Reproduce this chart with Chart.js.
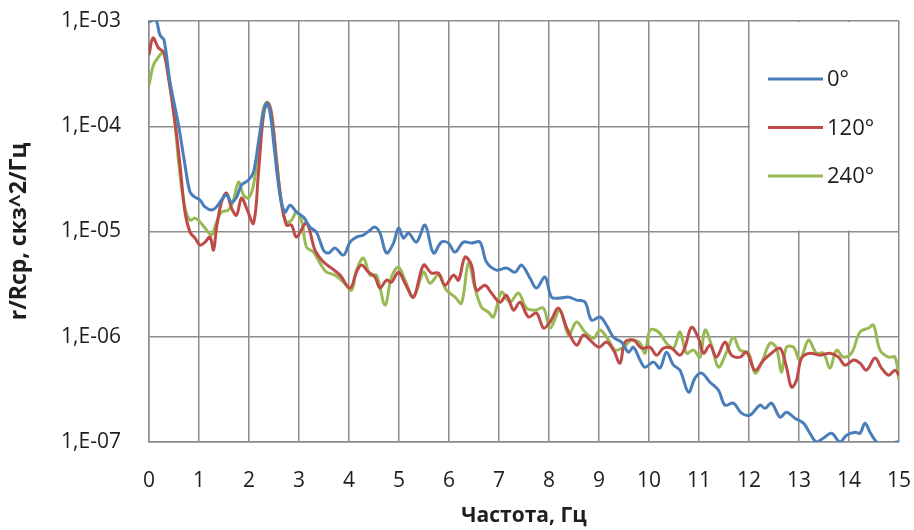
<!DOCTYPE html>
<html>
<head>
<meta charset="utf-8">
<script src="https://cdn.jsdelivr.net/npm/chart.js@4.4.1/dist/chart.umd.min.js"></script>
<style>
  html, body { margin: 0; padding: 0; background: #fff; }
  #wrap { width: 914px; height: 530px; }
</style>
</head>
<body>
<div id="wrap"><canvas id="myChart" width="914" height="530"></canvas></div>
<script>
// Series data: frequency (Hz) and r/Rcp value
const seriesLabels = ["0°", "120°", "240°"];

const freq0 = [0, 0.1, 0.15, 0.22, 0.3, 0.42, 0.59, 0.72, 0.82, 0.92, 1.02, 1.12, 1.25, 1.35, 1.45, 1.55, 1.65, 1.75, 1.85, 1.99,
  2.09, 2.19, 2.29, 2.35, 2.42, 2.52, 2.62, 2.72, 2.82, 2.95, 3.09, 3.22, 3.35, 3.49, 3.59, 3.72, 3.89, 4.02, 4.15, 4.29,
  4.42, 4.52, 4.62, 4.75, 4.89, 4.99, 5.09, 5.19, 5.35, 5.52, 5.69, 5.85, 5.99, 6.12, 6.29, 6.45, 6.62, 6.75, 6.95, 7.15,
  7.32, 7.45, 7.62, 7.75, 7.92, 8.05, 8.22, 8.39, 8.55, 8.72, 8.85, 9.02, 9.15, 9.29, 9.45, 9.59, 9.69, 9.82, 9.92, 10.09,
  10.22, 10.35, 10.49, 10.62, 10.79, 10.92, 11.05, 11.22, 11.39, 11.52, 11.69, 11.85, 12.02, 12.22, 12.32, 12.45, 12.62, 12.75, 12.92, 13.09,
  13.22, 13.35, 13.49, 13.65, 13.82, 13.95, 14.12, 14.22, 14.32, 14.42, 14.55, 14.69, 14.85, 14.95, 15];
const val0 = [9.8e-4, 1.02e-3, 1.0e-3, 7.36e-4, 6.6e-4, 2.63e-4, 1.03e-4, 4.28e-5, 2.37e-5, 2.12e-5, 1.99e-5, 1.71e-5, 1.6e-5, 1.71e-5, 1.99e-5, 2.22e-5, 1.9e-5, 2.12e-5, 2.76e-5, 3.08e-5,
  3.67e-5, 7.08e-5, 1.36e-4, 1.66e-4, 1.36e-4, 5.32e-5, 2.22e-5, 1.53e-5, 1.78e-5, 1.53e-5, 1.37e-5, 1.1e-5, 9.86e-6, 6.65e-6, 6.24e-6, 6.95e-6, 5.97e-6, 7.93e-6, 8.85e-6, 9.25e-6,
  1.03e-5, 1.1e-5, 9.66e-6, 6.24e-6, 7.76e-6, 1.08e-5, 8.65e-6, 9.66e-6, 7.93e-6, 1.15e-5, 6.24e-6, 7.93e-6, 7.76e-6, 6.37e-6, 7.93e-6, 7.76e-6, 7.93e-6, 5.12e-6, 4.3e-6, 4.49e-6,
  4.11e-6, 4.8e-6, 3.61e-6, 2.9e-6, 3.69e-6, 2.38e-6, 2.33e-6, 2.38e-6, 2.23e-6, 2.13e-6, 1.44e-6, 1.54e-6, 1.29e-6, 9.9e-7, 8.9e-7, 7.14e-7, 7.96e-7, 6.0e-7, 5.14e-7, 5.74e-7,
  5.04e-7, 7.14e-7, 5.37e-7, 4.81e-7, 2.97e-7, 4.04e-7, 4.51e-7, 3.7e-7, 3.1e-7, 2.24e-7, 2.34e-7, 1.88e-7, 1.8e-7, 2.24e-7, 2.09e-7, 2.34e-7, 1.72e-7, 1.92e-7, 1.68e-7, 1.51e-7,
  1.21e-7, 1.0e-7, 1.09e-7, 1.21e-7, 1.0e-7, 1.16e-7, 1.24e-7, 1.21e-7, 1.51e-7, 1.24e-7, 1.0e-7, 9.0e-8, 9.5e-8, 1.0e-7, 1.0e-7];

const freq120 = [0, 0.08, 0.19, 0.29, 0.39, 0.52, 0.62, 0.72, 0.82, 0.92, 1.02, 1.12, 1.22, 1.29, 1.35, 1.45, 1.55, 1.65, 1.75, 1.85,
  1.95, 2.09, 2.19, 2.29, 2.37, 2.45, 2.55, 2.65, 2.75, 2.85, 2.95, 3.15, 3.32, 3.49, 3.65, 3.82, 4.02, 4.15, 4.25, 4.39,
  4.52, 4.62, 4.75, 4.85, 4.99, 5.12, 5.29, 5.49, 5.65, 5.79, 5.92, 6.09, 6.19, 6.32, 6.45, 6.55, 6.72, 6.85, 7.02, 7.15,
  7.29, 7.42, 7.59, 7.75, 7.89, 8.02, 8.19, 8.35, 8.55, 8.69, 8.82, 9.0, 9.15, 9.29, 9.42, 9.52, 9.69, 9.85, 10.02, 10.15,
  10.29, 10.45, 10.62, 10.72, 10.85, 10.99, 11.09, 11.22, 11.35, 11.52, 11.65, 11.82, 11.95, 12.12, 12.29, 12.45, 12.62, 12.75, 12.85, 12.95,
  13.05, 13.22, 13.42, 13.62, 13.79, 13.92, 14.09, 14.22, 14.35, 14.52, 14.65, 14.79, 14.92, 15];
const val120 = [4.75e-4, 6.9e-4, 5.54e-4, 5.07e-4, 2.87e-4, 1.1e-4, 4.28e-5, 1.53e-5, 9.86e-6, 8.65e-6, 7.43e-6, 7.93e-6, 8.85e-6, 6.65e-6, 1.08e-5, 1.9e-5, 2.32e-5, 1.67e-5, 1.43e-5, 2.08e-5,
  1.67e-5, 1.2e-5, 3.67e-5, 1.28e-4, 1.66e-4, 1.28e-4, 4.57e-5, 1.9e-5, 1.15e-5, 1.15e-5, 8.85e-6, 1.2e-5, 6.65e-6, 5.12e-6, 4.49e-6, 3.85e-6, 2.9e-6, 4.11e-6, 4.8e-6, 4.11e-6,
  3.69e-6, 2.9e-6, 3.45e-6, 3.3e-6, 4.11e-6, 3.23e-6, 2.38e-6, 4.8e-6, 4.02e-6, 4.02e-6, 3.09e-6, 3.85e-6, 3.45e-6, 5.71e-6, 4.8e-6, 2.77e-6, 3.09e-6, 2.6e-6, 2.13e-6, 2.48e-6,
  1.79e-6, 2.13e-6, 1.54e-6, 1.68e-6, 1.21e-6, 1.38e-6, 1.87e-6, 1.23e-6, 8.32e-7, 1.04e-6, 9.29e-7, 7.96e-7, 8.9e-7, 7.46e-7, 5.61e-7, 8.9e-7, 9.29e-7, 7.8e-7, 7.96e-7, 6.68e-7,
  7.8e-7, 7.8e-7, 6.68e-7, 7.96e-7, 1.23e-6, 9.7e-7, 6.98e-7, 8.32e-7, 6.4e-7, 8.9e-7, 6.68e-7, 6.4e-7, 7.14e-7, 4.81e-7, 6.0e-7, 6.98e-7, 7.8e-7, 5.14e-7, 3.32e-7, 3.86e-7,
  6.27e-7, 6.98e-7, 6.68e-7, 6.98e-7, 6.4e-7, 5.37e-7, 6.0e-7, 5.61e-7, 4.81e-7, 6.27e-7, 5.04e-7, 4.31e-7, 4.81e-7, 4.31e-7];

const freq240 = [0, 0.09, 0.19, 0.29, 0.39, 0.52, 0.62, 0.72, 0.82, 0.92, 1.02, 1.12, 1.25, 1.35, 1.45, 1.59, 1.69, 1.79, 1.89, 1.99,
  2.09, 2.19, 2.29, 2.37, 2.45, 2.55, 2.65, 2.75, 2.85, 2.95, 3.05, 3.15, 3.29, 3.42, 3.55, 3.72, 3.89, 4.05, 4.15, 4.29,
  4.42, 4.55, 4.72, 4.85, 4.99, 5.12, 5.29, 5.49, 5.62, 5.79, 5.95, 6.12, 6.25, 6.39, 6.52, 6.65, 6.79, 6.89, 7.05, 7.22,
  7.39, 7.55, 7.72, 7.89, 8.02, 8.22, 8.39, 8.55, 8.72, 8.89, 9.02, 9.19, 9.32, 9.49, 9.65, 9.82, 9.92, 10.02, 10.19, 10.35,
  10.49, 10.62, 10.75, 10.89, 11.02, 11.12, 11.25, 11.39, 11.55, 11.69, 11.82, 11.99, 12.12, 12.25, 12.42, 12.55, 12.65, 12.75, 12.89, 13.02,
  13.19, 13.35, 13.49, 13.62, 13.75, 13.89, 14.05, 14.22, 14.39, 14.49, 14.62, 14.79, 14.92, 15];
const val240 = [2.46e-4, 3.82e-4, 4.55e-4, 5.07e-4, 3.07e-4, 1.03e-4, 3.44e-5, 1.67e-5, 1.28e-5, 1.34e-5, 1.23e-5, 1.08e-5, 9.25e-6, 1.23e-5, 1.53e-5, 1.6e-5, 1.99e-5, 2.95e-5, 2.22e-5, 2.08e-5,
  2.76e-5, 6.62e-5, 1.49e-4, 1.7e-4, 1.36e-4, 4.99e-5, 1.78e-5, 1.23e-5, 1.28e-5, 1.53e-5, 1.28e-5, 7.11e-6, 6.37e-6, 5.01e-6, 4.11e-6, 3.85e-6, 3.3e-6, 2.77e-6, 4.3e-6, 5.59e-6,
  3.85e-6, 3.85e-6, 2.0e-6, 3.69e-6, 4.59e-6, 3.45e-6, 2.38e-6, 4.11e-6, 3.23e-6, 3.85e-6, 2.77e-6, 2.38e-6, 2.08e-6, 5.01e-6, 2.9e-6, 1.91e-6, 1.71e-6, 1.54e-6, 2.65e-6, 2.13e-6,
  2.6e-6, 1.87e-6, 1.79e-6, 1.87e-6, 1.21e-6, 1.79e-6, 1.04e-6, 1.38e-6, 1.11e-6, 9.7e-7, 1.16e-6, 9.29e-7, 7.46e-7, 7.96e-7, 9.29e-7, 8.69e-7, 6.98e-7, 1.16e-6, 1.11e-6, 8.69e-7,
  7.8e-7, 1.11e-6, 6.98e-7, 7.46e-7, 6.4e-7, 1.16e-6, 8.32e-7, 5.14e-7, 7.14e-7, 9.9e-7, 7.46e-7, 6.98e-7, 4.51e-7, 5.61e-7, 8.69e-7, 7.8e-7, 4.61e-7, 7.96e-7, 7.96e-7, 6.0e-7,
  9.29e-7, 6.98e-7, 6.98e-7, 5.04e-7, 7.46e-7, 6.4e-7, 6.98e-7, 1.11e-6, 1.21e-6, 1.29e-6, 7.46e-7, 6.4e-7, 6.4e-7, 3.86e-7];

const yTicks = [1e-3, 1e-4, 1e-5, 1e-6, 1e-7];
const colors = ["#4a7ebb", "#be4b48", "#98b954"];

function toPoints(xs, ys) {
  return xs.map((x, i) => ({ x: x, y: ys[i] }));
}

const FONT = "'Open Sans', 'DejaVu Sans', sans-serif";
const TEXT = "#1e1e1e";
const GRID = "#8c8c8c";

// legend drawn inside the top-right cell of the plot, as in the original
const insideLegend = {
  id: "insideLegend",
  afterDraw(chart) {
    const c = chart.ctx;
    const xs = chart.scales.x, ys = chart.scales.y;
    const left = xs.getPixelForValue(12), right = chart.chartArea.right;
    const top = chart.chartArea.top, bottom = ys.getPixelForValue(1e-5);
    c.save();
    c.fillStyle = "#fff";
    c.fillRect(left + 1, top + 1, right - left - 2, bottom - top - 2);
    c.font = "22px " + FONT;
    c.textBaseline = "middle";
    chart.data.datasets.forEach((ds, i) => {
      const y = 79 + i * 48.5;
      c.strokeStyle = ds.borderColor;
      c.lineWidth = 3;
      c.beginPath();
      c.moveTo(768, y);
      c.lineTo(823, y);
      c.stroke();
      c.fillStyle = TEXT;
      c.fillText(ds.label, 827, y + 1);
    });
    c.restore();
  }
};

let ctx = document.getElementById("myChart").getContext("2d");

var data = {
  datasets: [
    { label: seriesLabels[0], data: toPoints(freq0, val0), borderColor: colors[0] },
    { label: seriesLabels[1], data: toPoints(freq120, val120), borderColor: colors[1] },
    { label: seriesLabels[2], data: toPoints(freq240, val240), borderColor: colors[2] },
  ].map(d => Object.assign(d, { borderWidth: 3, pointRadius: 0, tension: 0.35, fill: false })),
};

var options = {
  responsive: false,
  animation: false,
  layout: { padding: { left: 0, right: 15, top: 21, bottom: 0 } },
  plugins: {
    legend: { display: false },
    tooltip: { enabled: false },
  },
  scales: {
    x: {
      type: "linear",
      min: 0,
      max: 15,
      ticks: { stepSize: 1, padding: 26, color: TEXT, font: { family: FONT, size: 21 } },
      grid: { color: GRID, lineWidth: 1.5, drawTicks: false },
      border: { color: GRID, width: 1.5 },
      title: { display: true, text: "Частота, Гц", color: TEXT, padding: { top: 0, bottom: 1 },
        font: { family: FONT, size: 21, weight: "bold" } },
      afterFit(scale) {
        scale.height = 88;
        scale.paddingLeft = 0;
        scale.paddingRight = 0;
      },
    },
    y: {
      type: "logarithmic",
      min: 1e-7,
      max: 1e-3,
      afterBuildTicks(scale) { scale.ticks = yTicks.map(v => ({ value: v })); },
      ticks: {
        padding: 28, color: TEXT, font: { family: FONT, size: 21 },
        callback: (v) => "1,E-0" + Math.round(-Math.log10(v)),
      },
      grid: { color: GRID, lineWidth: 1.5, drawTicks: false },
      border: { color: GRID, width: 1.5 },
      title: { display: true, text: "r/Rcp, скз^2/Гц", color: TEXT, padding: { top: 6, bottom: 0 },
        font: { family: FONT, size: 23, weight: "bold" } },
      afterFit(scale) {
        scale.width = 149;
        scale.paddingTop = 0;
        scale.paddingBottom = 0;
      },
    },
  },
};

var myChart = new Chart(ctx, {
  type: "line",
  data: data,
  options: options,
  plugins: [insideLegend],
});
</script>
</body>
</html>
